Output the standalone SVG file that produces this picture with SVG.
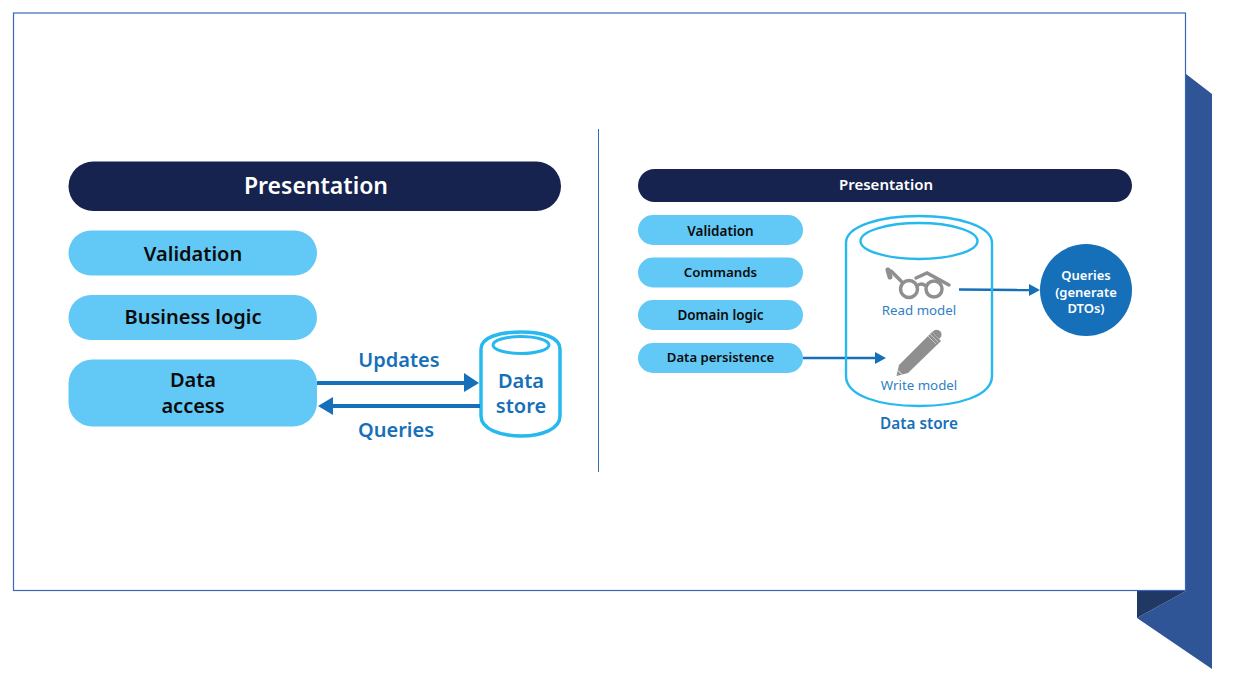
<svg xmlns="http://www.w3.org/2000/svg" width="1234" height="676" viewBox="0 0 1234 676">
<defs>
<style>
text{font-family:"Noto Sans","Open Sans","Liberation Sans",sans-serif;text-anchor:middle}
.navy{fill:#16234f}
.pill{fill:#62c8f5}
.b{font-weight:600;fill:#0b0b0b}
.w{font-weight:600;fill:#fff}
.blue{font-weight:600;fill:#1570b9}
.thin{font-weight:400;fill:#2f7fc4;font-size:13.300px}
.cyl{fill:none;stroke:#27b9ee}
.conn{fill:none;stroke:#1570b9}
.head{fill:#1570b9}
</style>
</defs>
<rect width="1234" height="676" fill="#fff"/>
<g id="ribbon">
<polygon points="1186,74 1212,94 1212,669 1137,618 1186,591" fill="#2f5597"/>
<polygon points="1137,591 1186,591 1137,618" fill="#203864"/>
</g>
<rect id="card" x="13.500" y="13" width="1172" height="577.500" fill="#fff" stroke="#3a68b8" stroke-width="1.200"/>
<line id="divider" x1="598.500" y1="129" x2="598.500" y2="472" stroke="#2f6cb5" stroke-width="1"/>

<g id="left-presentation"><rect class="navy" x="68.500" y="161.500" width="492.500" height="49.500" rx="24.700"/><text class="w" x="316" y="194" font-size="23">Presentation</text></g>
<g id="left-validation"><rect class="pill" x="68.500" y="230.500" width="248.500" height="45" rx="22.500"/><text class="b" x="193" y="261" font-size="20">Validation</text></g>
<g id="left-business"><rect class="pill" x="68.500" y="295" width="248.500" height="45" rx="22.500"/><text class="b" x="193" y="324" font-size="20">Business logic</text></g>
<g id="left-data-access"><rect class="pill" x="68.500" y="359.500" width="248.500" height="67" rx="24"/><text class="b" x="193" y="387" font-size="20">Data</text><text class="b" x="193" y="413" font-size="20">access</text></g>
<g id="left-data-store">
<path class="cyl" stroke-width="3.500" d="M481,349 C481,337 500,332 521,332 C542,332 560,337 560,349 V416 C560,429 542,436 521,436 C500,436 481,429 481,416 Z"/>
<ellipse class="cyl" stroke-width="3" cx="521" cy="345" rx="28" ry="8.500"/>
<text class="blue" x="521" y="388" font-size="20">Data</text><text class="blue" x="521" y="413" font-size="20">store</text>
</g>

<g id="connectors">
<line class="conn" stroke-width="4" x1="317" y1="383" x2="466" y2="383"/><polygon class="head" points="464,373 479,383 464,392"/>
<line class="conn" stroke-width="4" x1="480" y1="406" x2="331" y2="406"/><polygon class="head" points="333,397 318,406 333,415"/>
<line class="conn" stroke-width="2.500" x1="803" y1="358" x2="876" y2="358"/><polygon class="head" points="875,352 886,358 875,364"/>
<line class="conn" stroke-width="2.500" x1="959" y1="289.500" x2="1029" y2="290"/><polygon class="head" points="1029,284 1040,290 1029,296"/>
</g>
<text class="blue" x="399" y="367" font-size="20">Updates</text>
<text class="blue" x="396" y="437" font-size="20">Queries</text>

<g id="right-presentation"><rect class="navy" x="638" y="169" width="494" height="33" rx="16.500"/><text class="w" x="886" y="190" font-size="15">Presentation</text></g>
<g id="right-validation"><rect class="pill" x="638" y="215" width="165" height="30" rx="15"/><text class="b" x="720.500" y="236" font-size="13.500">Validation</text></g>
<g id="right-commands"><rect class="pill" x="638" y="257.500" width="165" height="30" rx="15"/><text class="b" x="720.500" y="277" font-size="13.300">Commands</text></g>
<g id="right-domain"><rect class="pill" x="638" y="300" width="165" height="30" rx="15"/><text class="b" x="720.500" y="320" font-size="13.500">Domain logic</text></g>
<g id="right-persistence"><rect class="pill" x="638" y="343" width="165" height="30" rx="15"/><text class="b" x="720.500" y="362" font-size="13.100">Data persistence</text></g>
<g id="right-data-store">
<path class="cyl" stroke-width="2.400" d="M846,243 C846,226 880,216 919,216 C958,216 992,226 992,243 V376 C992,396 958,406 919,406 C880,406 846,396 846,376 Z"/>
<ellipse class="cyl" stroke-width="2.400" cx="919" cy="241" rx="58.500" ry="18"/>
<g id="glasses" fill="none" stroke="#8f8f8f" stroke-width="3.500" stroke-linecap="round">
<circle cx="909" cy="289" r="8.500"/><circle cx="934" cy="289" r="8"/>
<path d="M917,286 Q921,282 926,286"/>
<path d="M902,282 L891,271"/>
<path d="M916,278 L927,273 L949,285"/>
<path d="M888,270 L890,277" stroke-width="5"/>
</g>
<g id="pencil" fill="#8f8f8f">
<polygon points="899,365 932,332 941,341 908,373 896.500,376"/>
<path d="M932,332 L935,330 Q938,329 941,332 Q942,335 941,337 L939,339 Z"/>
<path d="M930,334 L938,342 M928,336 L936,344" stroke="#d5d5d5" stroke-width="0.800"/>
<path d="M898,370.500 L902,374.500" stroke="#fff" stroke-width="1"/>
</g>
<text class="thin" x="919" y="315">Read model</text>
<text class="thin" x="919" y="390">Write model</text>
<text class="blue" x="919" y="429" font-size="15.300">Data store</text>
</g>
<g id="right-queries"><circle cx="1086" cy="290" r="46" fill="#1570b9"/>
<text class="w" x="1086" y="280" font-size="13">Queries</text><text class="w" x="1086" y="297" font-size="13">(generate</text><text class="w" x="1086" y="313" font-size="13">DTOs)</text></g>
</svg>
